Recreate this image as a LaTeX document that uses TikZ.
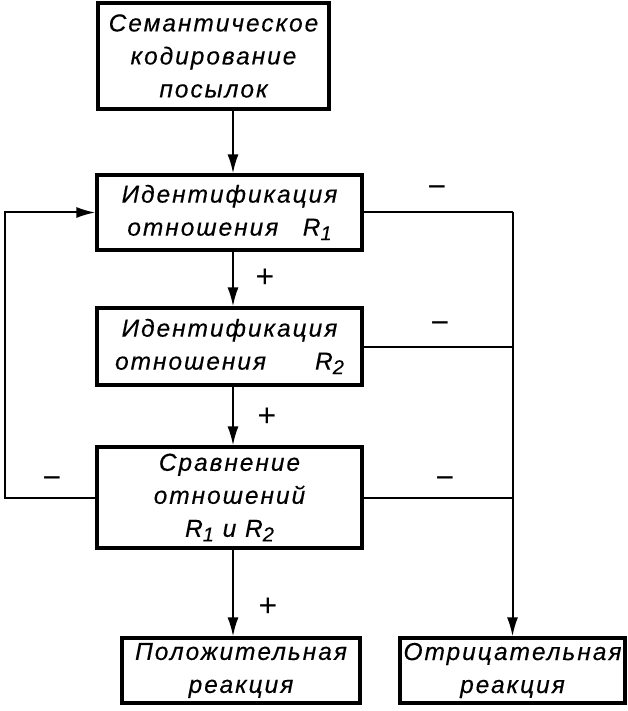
\documentclass[tikz,border=0pt]{standalone}
\usepackage{fontspec}
\usetikzlibrary{arrows.meta}
\newfontfamily\lblfont[LetterSpace=8,FakeBold=0.3]{Liberation Sans}
\newfontfamily\sgnfont{Liberation Sans}
\newcommand{\sbs}[1]{\raisebox{-0.35ex}{\fontsize{20}{20}\selectfont #1}}
\tikzset{
  blk/.style={draw, line width=3.2pt, rectangle, inner sep=0pt, align=center,
    font=\lblfont\itshape\fontsize{24.5}{33}\selectfont},
  con/.style={line width=2pt},
  arr/.style={con, -{Latex[length=19pt,width=11pt]}},
  sgn/.style={font=\sgnfont\fontsize{32}{32}\selectfont, inner sep=0pt}
}
\begin{document}
\begin{tikzpicture}[x=1pt,y=-1pt]
\useasboundingbox (0,0) rectangle (627,711);
\node[blk, minimum width=231pt, minimum height=106pt] (b1) at (213.5,56) {Семантическое\\кодирование\\посылок};
\node[blk, minimum width=265pt, minimum height=75pt] (b2) at (229.5,212.5) {Идентификация\\отношения\quad R\sbs{1}};
\node[blk, minimum width=265pt, minimum height=77pt] (b3) at (229.5,346.5) {Идентификация\\отношения\qquad R\sbs{2}};
\node[blk, minimum width=265pt, minimum height=101pt] (b4) at (229.5,497.5) {Сравнение\\отношений\\R\sbs{1} и R\sbs{2}};
\node[blk, minimum width=238pt, minimum height=65pt] (b5) at (241,670.5) {Положительная\\реакция};
\node[blk, minimum width=225pt, minimum height=65pt] (b6) at (512.5,670.5) {Отрицательная\\реакция};
\coordinate (ax) at (233,0);
\coordinate (lx) at (5,0);
\draw[arr] (b1.south -| ax) -- (b2.north -| ax);
\draw[arr] (b2.south -| ax) -- (b3.north -| ax);
\draw[arr] (b3.south -| ax) -- (b4.north -| ax);
\draw[arr] (b4.south -| ax) -- (b5.north -| ax);
\draw[arr] (b4.west) -- (b4.west -| lx) -- (b2.west -| lx) -- (b2.west);
\draw[con] (b2.east) -- (b2.east -| b6.north);
\draw[con] (b3.east) -- (b3.east -| b6.north);
\draw[con] (b4.east) -- (b4.east -| b6.north);
\draw[arr] (b2.east -| b6.north) -- (b6.north);
\node[sgn] (m1) at (437,192) {−};
\node[sgn] (m2) at (440,328) {−};
\node[sgn] (m3) at (445,483) {−};
\node[sgn] (m4) at (52,483) {−};
\node[sgn] (p1) at (265,278) {+};
\node[sgn] (p2) at (267,417) {+};
\node[sgn] (p3) at (268,607) {+};
\end{tikzpicture}
\end{document}
